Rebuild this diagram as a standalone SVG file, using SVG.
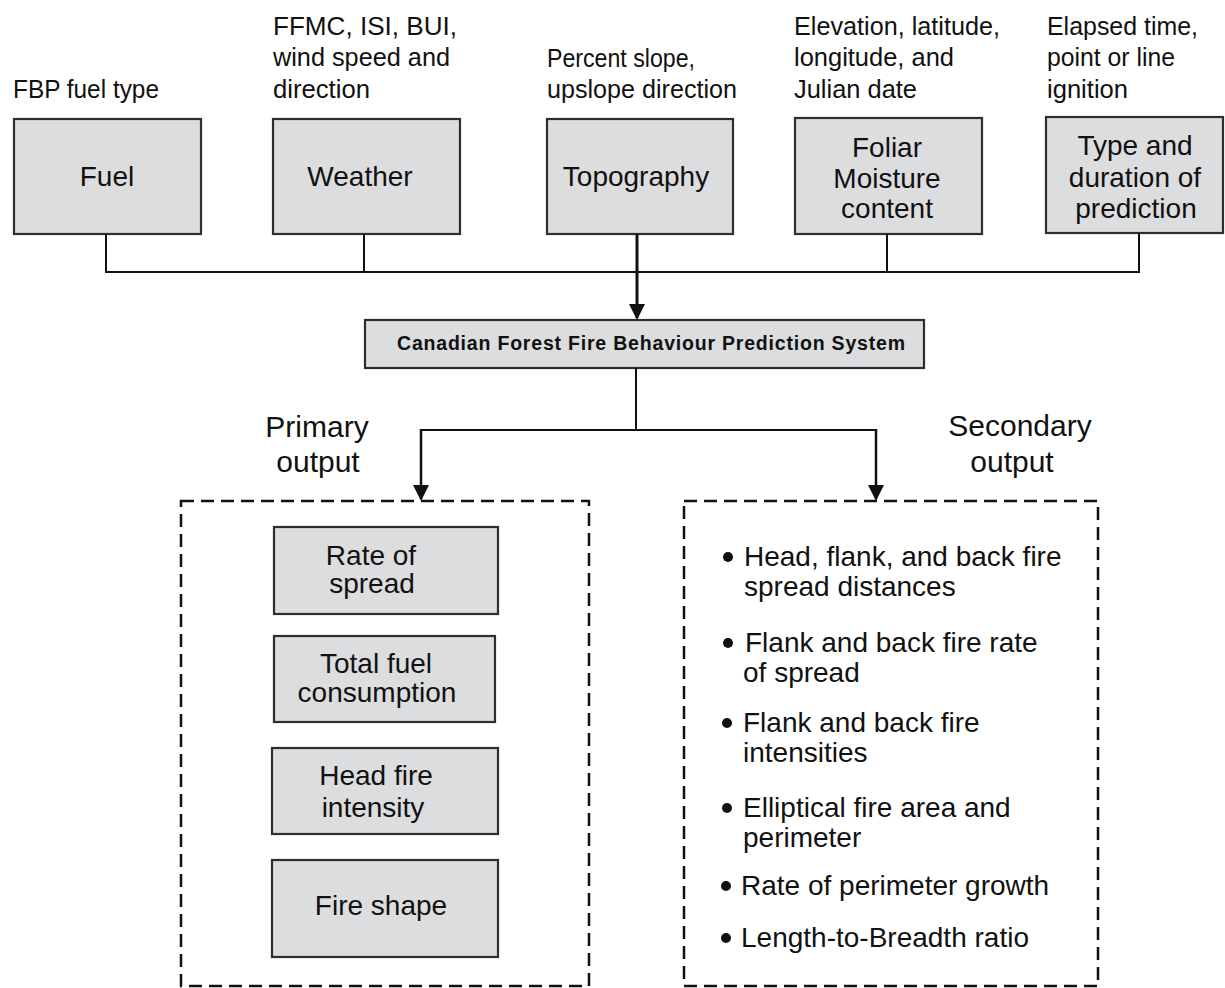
<svg xmlns="http://www.w3.org/2000/svg" width="1225" height="988" viewBox="0 0 1225 988">
<style>
.box{fill:#dcdddf;stroke:#2e2e2e;stroke-width:2.2}
.lbl{font-family:"Liberation Sans",Arial,sans-serif;font-size:26.5px;fill:#111}
.t{font-family:"Liberation Sans",Arial,sans-serif;font-size:28px;fill:#111;text-anchor:middle}
.hd{font-family:"Liberation Sans",Arial,sans-serif;font-size:30px;fill:#111;text-anchor:middle}
.li{font-family:"Liberation Sans",Arial,sans-serif;font-size:28px;fill:#111}
.c{fill:none;stroke:#111;stroke-width:2}
.ct{fill:none;stroke:#111;stroke-width:3}
.dash{fill:none;stroke:#111;stroke-width:2.5;stroke-dasharray:13 7}
.bul{fill:#111}
</style>
<defs>
<marker id="ah" markerUnits="userSpaceOnUse" markerWidth="16" markerHeight="16" viewBox="0 0 16 16" refX="14" refY="8" orient="auto">
<path d="M0,0 L16,8 L0,16 z" fill="#111"/>
</marker>
</defs>

<g id="inputs-labels">
<text class="lbl" x="13" y="98" textLength="146" lengthAdjust="spacingAndGlyphs">FBP fuel type</text>
<text class="lbl" x="273" y="35" textLength="184" lengthAdjust="spacingAndGlyphs">FFMC, ISI, BUI,</text>
<text class="lbl" x="273" y="66" textLength="177" lengthAdjust="spacingAndGlyphs">wind speed and</text>
<text class="lbl" x="273" y="98" textLength="97" lengthAdjust="spacingAndGlyphs">direction</text>
<text class="lbl" x="547" y="67" textLength="148" lengthAdjust="spacingAndGlyphs">Percent slope,</text>
<text class="lbl" x="547" y="98" textLength="190" lengthAdjust="spacingAndGlyphs">upslope direction</text>
<text class="lbl" x="794" y="35" textLength="206" lengthAdjust="spacingAndGlyphs">Elevation, latitude,</text>
<text class="lbl" x="794" y="66" textLength="160" lengthAdjust="spacingAndGlyphs">longitude, and</text>
<text class="lbl" x="794" y="98" textLength="123" lengthAdjust="spacingAndGlyphs">Julian date</text>
<text class="lbl" x="1047" y="35" textLength="151" lengthAdjust="spacingAndGlyphs">Elapsed time,</text>
<text class="lbl" x="1047" y="66" textLength="128" lengthAdjust="spacingAndGlyphs">point or line</text>
<text class="lbl" x="1047" y="98" textLength="81" lengthAdjust="spacingAndGlyphs">ignition</text>
</g>

<g id="fuel">
<rect class="box" x="14" y="119" width="187" height="115"/>
<text class="t" x="107" y="186">Fuel</text>
</g>
<g id="weather">
<rect class="box" x="273" y="119" width="187" height="115"/>
<text class="t" x="360" y="186">Weather</text>
</g>
<g id="topography">
<rect class="box" x="547" y="119" width="186" height="115"/>
<text class="t" x="636" y="186">Topography</text>
</g>
<g id="foliar">
<rect class="box" x="795" y="118" width="187" height="116"/>
<text class="t" x="887" y="157">Foliar</text>
<text class="t" x="887" y="188">Moisture</text>
<text class="t" x="887" y="218">content</text>
</g>
<g id="type">
<rect class="box" x="1046" y="117" width="177" height="116"/>
<text class="t" x="1135" y="155">Type and</text>
<text class="t" x="1135" y="187">duration of</text>
<text class="t" x="1136" y="218">prediction</text>
</g>

<g id="fbp">
<rect class="box" x="365" y="320" width="559" height="48"/>
<text x="397" y="350" font-family="Liberation Sans, Arial, sans-serif" font-size="19.5" font-weight="bold" fill="#111" textLength="508" lengthAdjust="spacing">Canadian Forest Fire Behaviour Prediction System</text>
</g>

<g id="connectors">
<path class="c" d="M106,234 V272 H1139 V233"/>
<path class="c" d="M364,234 V272"/>
<path class="c" d="M887,234 V272"/>
<path class="ct" d="M637,234 V318" marker-end="url(#ah)"/>
<path class="c" d="M636,368 V430"/>
<path class="c" d="M421,430 H876"/>
<path class="ct" d="M421,429 V499" marker-end="url(#ah)" style="stroke-width:2.5"/>
<path class="ct" d="M876,429 V499" marker-end="url(#ah)" style="stroke-width:2.5"/>
</g>

<g id="primary-output">
<text class="hd" x="317" y="437">Primary</text>
<text class="hd" x="318" y="472">output</text>
<rect class="dash" x="181" y="501" width="408" height="485"/>
<g id="rate-of-spread">
<rect class="box" x="274" y="527" width="224" height="87"/>
<text class="t" x="371" y="565">Rate of</text>
<text class="t" x="372" y="593">spread</text>
</g>
<g id="total-fuel">
<rect class="box" x="274" y="636" width="221" height="86"/>
<text class="t" x="376" y="673">Total fuel</text>
<text class="t" x="377" y="702">consumption</text>
</g>
<g id="head-fire">
<rect class="box" x="272" y="748" width="226" height="86"/>
<text class="t" x="376" y="785">Head fire</text>
<text class="t" x="373" y="817">intensity</text>
</g>
<g id="fire-shape">
<rect class="box" x="272" y="860" width="226" height="97"/>
<text class="t" x="381" y="915">Fire shape</text>
</g>
</g>

<g id="secondary-output">
<text class="hd" x="1020" y="436">Secondary</text>
<text class="hd" x="1012" y="472">output</text>
<rect class="dash" x="684" y="501" width="414" height="485"/>
<circle class="bul" cx="728" cy="557" r="5"/>
<text class="li" x="744" y="566">Head, flank, and back fire</text>
<text class="li" x="744" y="596">spread distances</text>
<circle class="bul" cx="728" cy="643" r="5"/>
<text class="li" x="745" y="652">Flank and back fire rate</text>
<text class="li" x="743" y="682">of spread</text>
<circle class="bul" cx="727" cy="723" r="5"/>
<text class="li" x="743" y="732">Flank and back fire</text>
<text class="li" x="743" y="762">intensities</text>
<circle class="bul" cx="727" cy="808" r="5"/>
<text class="li" x="743" y="817">Elliptical fire area and</text>
<text class="li" x="743" y="847">perimeter</text>
<circle class="bul" cx="726" cy="886" r="5"/>
<text class="li" x="741" y="895">Rate of perimeter growth</text>
<circle class="bul" cx="726" cy="938" r="5"/>
<text class="li" x="741" y="947">Length-to-Breadth ratio</text>
</g>
</svg>
